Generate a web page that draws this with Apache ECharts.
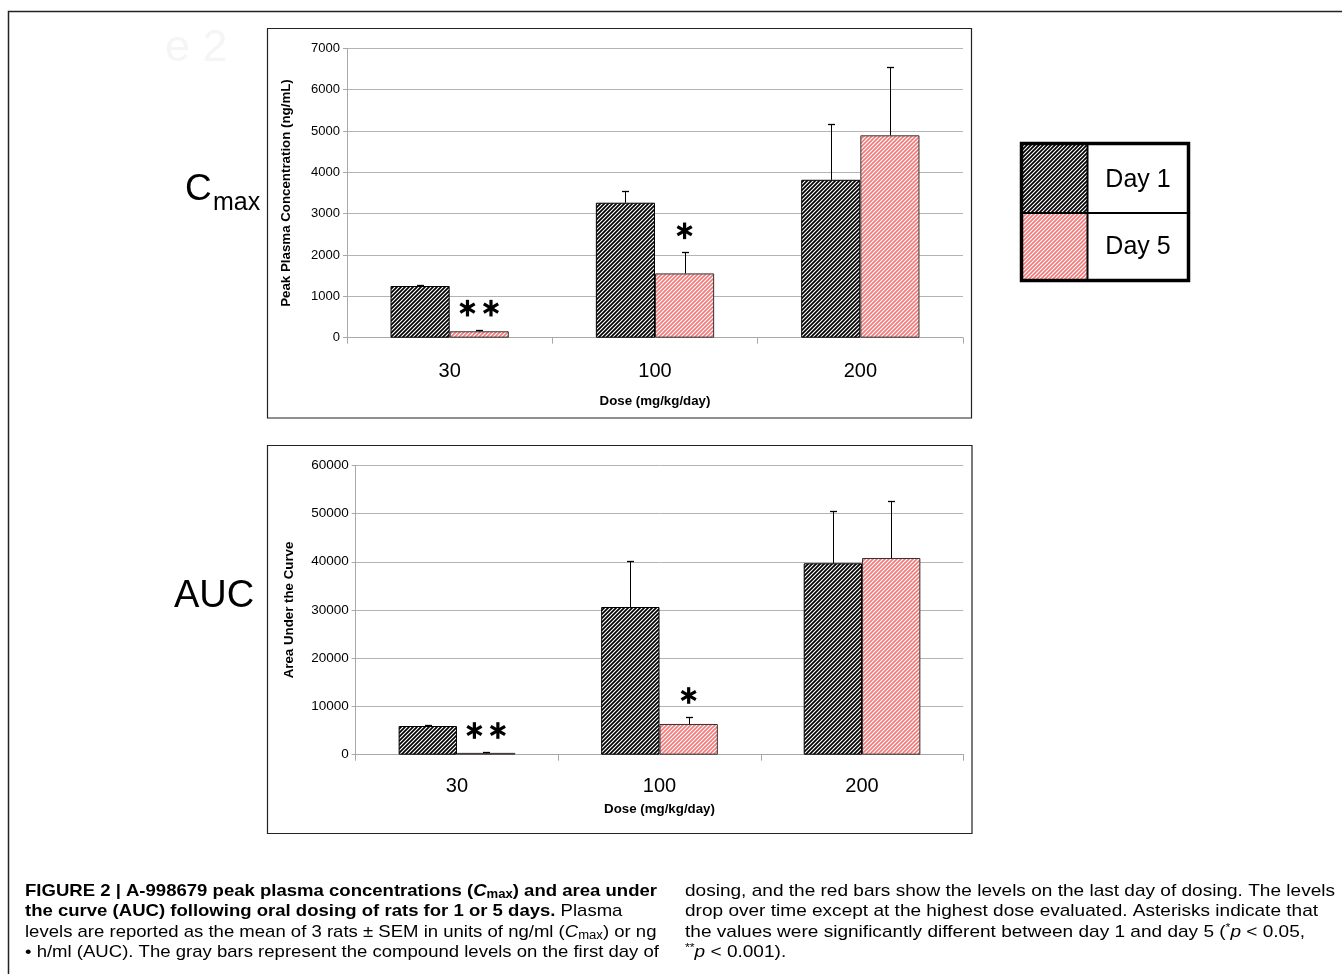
<!DOCTYPE html>
<html><head><meta charset="utf-8">
<script src="https://cdn.jsdelivr.net/npm/echarts@6/dist/echarts.min.js"></script>
<style>html,body{margin:0;padding:0;background:#fff}#c{width:1342px;height:974px}</style>
</head><body><div id="c"></div>
<script>
// ---------------- data ----------------
var doses = ['30', '100', '200'];
var seriesNames = ['Day 1', 'Day 5'];
var cmaxDay1 = [1250, 3265, 3820];
var cmaxDay1Err = [28, 290, 1340];
var cmaxDay5 = [155, 1555, 4895];
var cmaxDay5Err = [40, 510, 1645];
var aucDay1 = [5950, 30620, 39680];
var aucDay1Err = [210, 9540, 10910];
var aucDay5 = [380, 6370, 40780];
var aucDay5Err = [180, 1450, 11760];
var cmaxStars = [2, 1, 0];
var aucStars = [2, 1, 0];
var cmaxTicks = [0, 1000, 2000, 3000, 4000, 5000, 6000, 7000];
var aucTicks = [0, 10000, 20000, 30000, 40000, 50000, 60000];

// ---------------- styles ----------------
var F = 'Liberation Sans, Arial, sans-serif';
function hatch(bg, fg, size, lw) {
  var c = document.createElement('canvas'); c.width = c.height = size;
  var g = c.getContext('2d');
  g.fillStyle = bg; g.fillRect(0, 0, size, size);
  g.strokeStyle = fg; g.lineWidth = lw; g.lineCap = 'square';
  g.beginPath();
  g.moveTo(-1, size + 1); g.lineTo(size + 1, -1);
  g.moveTo(-1, 1); g.lineTo(1, -1);
  g.moveTo(size - 1, size + 1); g.lineTo(size + 1, size - 1);
  g.stroke();
  return { image: c, repeat: 'repeat' };
}
var blackPat = hatch('#ffffff', '#000000', 4, 1.7);
var redPat = hatch('#ffffff', '#f07a7a', 4, 1.7);
var BARW = 0.288;

function errRender(sign) {
  return function (params, api) {
    var i = api.value(0), v = api.value(1), e = api.value(2);
    var band = api.size([1, 0])[0];
    var c = api.coord([i, v]), t = api.coord([i, v + e]);
    var x = Math.round(c[0] + sign * band * BARW / 2) + 0.5;
    var ty = Math.round(t[1]) + 0.5;
    return { type: 'group', children: [
      { type: 'line', shape: { x1: x, y1: c[1], x2: x, y2: ty }, style: { stroke: '#000', lineWidth: 1 } },
      { type: 'line', shape: { x1: x - 3.5, y1: ty, x2: x + 3.5, y2: ty }, style: { stroke: '#000', lineWidth: 1.3 } }
    ] };
  };
}
function starShape(cx, cy) {
  var L = 8.3, out = [];
  var angs = [90, 30, -30];
  angs.forEach(function (a) {
    var r = a * Math.PI / 180, dx = L * Math.cos(r), dy = L * Math.sin(r);
    out.push({ type: 'line', shape: { x1: cx - dx, y1: cy - dy, x2: cx + dx, y2: cy + dy },
      style: { stroke: '#000', lineWidth: 3.2, lineCap: 'butt' } });
  });
  return out;
}
function starRender(params, api) {
  var i = api.value(0), top = api.value(1), n = api.value(2);
  var band = api.size([1, 0])[0];
  var p = api.coord([i, top]);
  var cx = p[0] + band * BARW / 2, cy = p[1] - 21.5;
  var kids = [];
  for (var k = 0; k < n; k++) {
    var off = (k - (n - 1) / 2) * 23.5;
    kids = kids.concat(starShape(cx + off, cy));
  }
  return { type: 'group', children: kids };
}
function errData(vals, errs) { return vals.map(function (v, i) { return [i, v, errs[i]]; }); }
function starData(vals, errs, stars) { return vals.map(function (v, i) { return [i, v + errs[i], stars[i]]; }); }

function xAxisOf(gi, gap, lm) {
  return { type: 'category', gridIndex: gi, data: doses, boundaryGap: true,
    axisLine: { show: true, lineStyle: { color: '#a8a8a8', width: 1 } },
    axisTick: { show: true, interval: 0, alignWithLabel: false, length: 6, lineStyle: { color: '#a8a8a8' } },
    axisLabel: { color: '#000', fontFamily: F, fontSize: 20, margin: lm },
    name: 'Dose (mg/kg/day)', nameLocation: 'middle', nameGap: gap,
    nameTextStyle: { color: '#000', fontFamily: F, fontSize: 13.3, fontWeight: 'bold' },
    splitLine: { show: false } };
}
function yAxisOf(gi, ticks, name, gap, fs) {
  return { type: 'value', gridIndex: gi, min: ticks[0], max: ticks[ticks.length - 1], interval: ticks[1] - ticks[0],
    axisLine: { show: true, lineStyle: { color: '#a8a8a8', width: 1 } },
    axisTick: { show: true, length: 4, lineStyle: { color: '#a8a8a8' } },
    axisLabel: { color: '#000', fontFamily: F, fontSize: fs, margin: 7, formatter: function (v) { return String(v); } },
    splitLine: { show: true, lineStyle: { color: '#b4b4b4', width: 1 } },
    name: name, nameLocation: 'middle', nameGap: gap,
    nameTextStyle: { color: '#000', fontFamily: F, fontSize: 13.3, fontWeight: 'bold' } };
}
function barSeries(name, xi, data, pat, border) {
  return { name: name, type: 'bar', xAxisIndex: xi, yAxisIndex: xi, data: data,
    barWidth: (BARW * 100) + '%', barGap: '0%',
    itemStyle: { color: pat, borderColor: border, borderWidth: 1 }, z: 2 };
}
function customSeries(xi, data, render, z) {
  return { type: 'custom', xAxisIndex: xi, yAxisIndex: xi, coordinateSystem: 'cartesian2d',
    data: data, renderItem: render, encode: { x: 0, y: 1 }, z: z, silent: true };
}

// ---------------- caption ----------------
var capS = {
  b: { fontFamily: F, fontSize: 17, fontWeight: 'bold', color: '#231f20', lineHeight: 20 },
  bi: { fontFamily: F, fontSize: 17, fontWeight: 'bold', fontStyle: 'italic', color: '#231f20', lineHeight: 20 },
  bs: { fontFamily: F, fontSize: 12, fontWeight: 'bold', color: '#231f20', lineHeight: 12, verticalAlign: 'bottom' },
  r: { fontFamily: F, fontSize: 17, color: '#3a3a3a', lineHeight: 20 },
  i: { fontFamily: F, fontSize: 17, fontStyle: 'italic', color: '#3a3a3a', lineHeight: 20 },
  s: { fontFamily: F, fontSize: 12, color: '#3a3a3a', lineHeight: 12, verticalAlign: 'bottom' },
  sup: { fontFamily: F, fontSize: 11, color: '#3a3a3a', lineHeight: 11, verticalAlign: 'top' }
};
var capLeft = [
  [['b', 'FIGURE 2 | A-998679 peak plasma concentrations ('], ['bi', 'C'], ['bs', 'max'], ['b', ') and area under']],
  [['b', 'the curve (AUC) following oral dosing of rats for 1 or 5 days.'], ['r', ' Plasma']],
  [['r', 'levels are reported as the mean of 3 rats \u00b1 SEM in units of ng/ml ('], ['i', 'C'], ['s', 'max'], ['r', ') or ng']],
  [['r', '\u2022 h/ml (AUC). The gray bars represent the compound levels on the first day of']]
];
var capRight = [
  [['r', 'dosing, and the red bars show the levels on the last day of dosing. The levels']],
  [['r', 'drop over time except at the highest dose evaluated. Asterisks indicate that']],
  [['r', 'the values were significantly different between day 1 and day 5 ('], ['sup', '*'], ['i', 'p'], ['r', ' < 0.05,']],
  [['sup', '**'], ['i', 'p'], ['r', ' < 0.001).']]
];
var mctx = document.createElement('canvas').getContext('2d');
function measure(tokens) {
  var w = 0;
  tokens.forEach(function (t) {
    var s = capS[t[0]];
    mctx.font = (s.fontStyle || 'normal') + ' ' + (s.fontWeight || 'normal') + ' ' + s.fontSize + 'px ' + s.fontFamily;
    w += mctx.measureText(t[1]).width;
  });
  return w;
}
function richStr(tokens) { return tokens.map(function (t) { return '{' + t[0] + '|' + t[1] + '}'; }).join(''); }
var lineYs = [891, 911.5, 932, 952.5];
var capGraphics = [];
function addCol(lines, x, target) {
  var sc = target / measure(lines[0]);
  lines.forEach(function (tk, k) {
    capGraphics.push({ type: 'text', x: x, y: lineYs[k], scaleX: sc,
      style: { text: richStr(tk), rich: capS, align: 'left', verticalAlign: 'middle' } });
  });
}
addCol(capLeft, 25, 632);
addCol(capRight, 685, 650);

// ---------------- chart ----------------
var chart = echarts.init(document.getElementById('c'), null, { renderer: 'canvas' });
var graphics = [
  { type: 'rect', shape: { x: 8.5, y: 11.5, width: 1400, height: 1000 }, style: { fill: 'none', stroke: '#222', lineWidth: 1.5 }, z: -10 },
  { type: 'text', x: 165, y: 49, style: { text: 'e 2', fontFamily: F, fontSize: 45, fill: '#f5f5f5', verticalAlign: 'middle' } },
  { type: 'rect', shape: { x: 267.5, y: 28.5, width: 704, height: 389.5 }, style: { fill: 'none', stroke: '#222', lineWidth: 1.2 } },
  { type: 'rect', shape: { x: 267.5, y: 445.5, width: 704.5, height: 388 }, style: { fill: 'none', stroke: '#222', lineWidth: 1.2 } },
  { type: 'text', x: 185, y: 190, style: { text: 'C', fontFamily: F, fontSize: 37, fill: '#000', verticalAlign: 'middle' } },
  { type: 'text', x: 213, y: 203, style: { text: 'max', fontFamily: F, fontSize: 25, fill: '#000', verticalAlign: 'middle' } },
  { type: 'text', x: 174, y: 597, style: { text: 'AUC', fontFamily: F, fontSize: 38, fill: '#000', verticalAlign: 'middle' } },
  // legend
  { type: 'rect', shape: { x: 1023, y: 145, width: 64, height: 67 }, style: { fill: blackPat } },
  { type: 'rect', shape: { x: 1023, y: 214, width: 64, height: 66 }, style: { fill: redPat } },
  { type: 'line', shape: { x1: 1087.5, y1: 143, x2: 1087.5, y2: 282 }, style: { stroke: '#000', lineWidth: 2 } },
  { type: 'line', shape: { x1: 1021, y1: 213, x2: 1189, y2: 213 }, style: { stroke: '#000', lineWidth: 2 } },
  { type: 'rect', shape: { x: 1021.5, y: 143.5, width: 167, height: 137 }, style: { fill: 'none', stroke: '#000', lineWidth: 3.5 } },
  { type: 'text', x: 1138, y: 180, style: { text: seriesNames[0], fontFamily: F, fontSize: 25, fill: '#000', align: 'center', verticalAlign: 'middle' } },
  { type: 'text', x: 1138, y: 247, style: { text: seriesNames[1], fontFamily: F, fontSize: 25, fill: '#000', align: 'center', verticalAlign: 'middle' } }
].concat(capGraphics);

chart.setOption({
  animation: false,
  backgroundColor: '#fff',
  grid: [
    { left: 347, top: 48.3, width: 616, height: 289.4, containLabel: false, outerBoundsMode: 'none' },
    { left: 355.7, top: 465.3, width: 607.6, height: 289.4, containLabel: false, outerBoundsMode: 'none' }
  ],
  xAxis: [xAxisOf(0, 57, 24), xAxisOf(1, 48, 22)],
  yAxis: [
    yAxisOf(0, cmaxTicks, 'Peak Plasma Concentration (ng/mL)', 54.5, 13),
    yAxisOf(1, aucTicks, 'Area Under the Curve', 60, 13.5)
  ],
  series: [
    barSeries(seriesNames[0], 0, cmaxDay1, blackPat, '#000'),
    barSeries(seriesNames[1], 0, cmaxDay5, redPat, '#333'),
    barSeries(seriesNames[0], 1, aucDay1, blackPat, '#000'),
    barSeries(seriesNames[1], 1, aucDay5, redPat, '#333'),
    customSeries(0, errData(cmaxDay1, cmaxDay1Err), errRender(-1), 5),
    customSeries(0, errData(cmaxDay5, cmaxDay5Err), errRender(1), 5),
    customSeries(1, errData(aucDay1, aucDay1Err), errRender(-1), 5),
    customSeries(1, errData(aucDay5, aucDay5Err), errRender(1), 5),
    customSeries(0, starData(cmaxDay5, cmaxDay5Err, cmaxStars), starRender, 6),
    customSeries(1, starData(aucDay5, aucDay5Err, aucStars), starRender, 6)
  ],
  graphic: graphics
});
</script>
</body></html>
